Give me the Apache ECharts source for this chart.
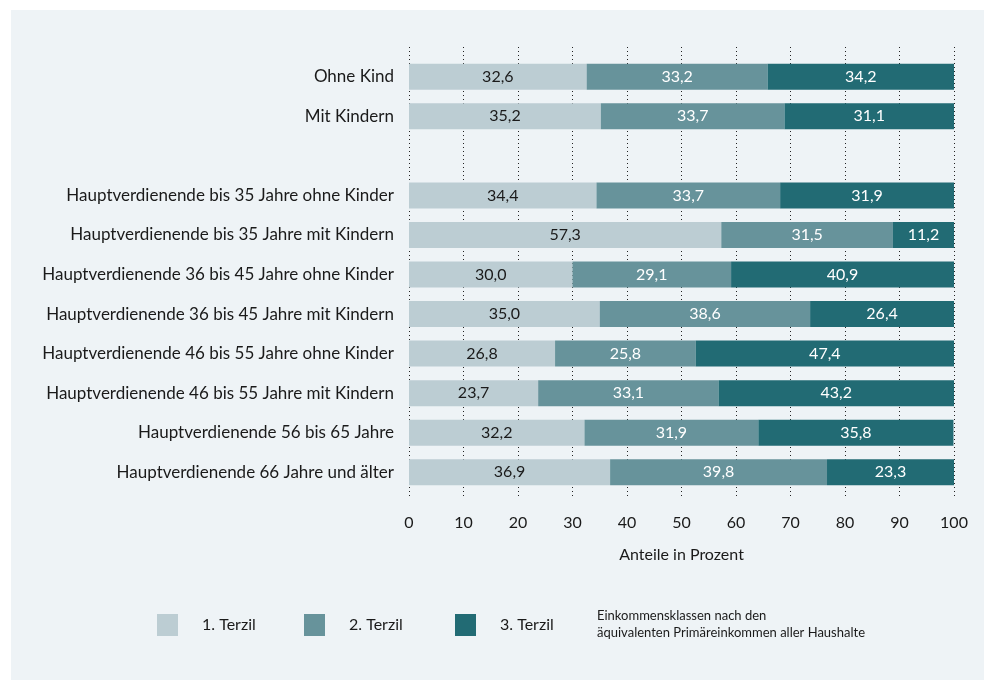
<!DOCTYPE html>
<html>
<head>
<meta charset="utf-8">
<script src="https://cdn.jsdelivr.net/npm/echarts@6/dist/echarts.min.js"></script>
<style>
  html, body { margin: 0; padding: 0; background: #fff; }
  #main { width: 984px; height: 680px; }
</style>
</head>
<body>
<div id="main"></div>
<script>
// Kategorien (leere Zeile als Abstand)
var categories = [
    'Ohne Kind',
    'Mit Kindern',
    '',
    'Hauptverdienende bis 35 Jahre ohne Kinder',
    'Hauptverdienende bis 35 Jahre mit Kindern',
    'Hauptverdienende 36 bis 45 Jahre ohne Kinder',
    'Hauptverdienende 36 bis 45 Jahre mit Kindern',
    'Hauptverdienende 46 bis 55 Jahre ohne Kinder',
    'Hauptverdienende 46 bis 55 Jahre mit Kindern',
    'Hauptverdienende 56 bis 65 Jahre',
    'Hauptverdienende 66 Jahre und älter'
];
var terzil1 = [32.6, 35.2, null, 34.4, 57.3, 30.0, 35.0, 26.8, 23.7, 32.2, 36.9];
var terzil2 = [33.2, 33.7, null, 33.7, 31.5, 29.1, 38.6, 25.8, 33.1, 31.9, 39.8];
var terzil3 = [34.2, 31.1, null, 31.9, 11.2, 40.9, 26.4, 47.4, 43.2, 35.8, 23.3];
var seriesNames = ['1. Terzil', '2. Terzil', '3. Terzil'];
var xTicks = [0, 10, 20, 30, 40, 50, 60, 70, 80, 90, 100];

var FONT = 'Lato';
var colors = ['#bccdd3', '#67939b', '#226b74'];
var textColors = ['#1a1a1a', '#ffffff', '#ffffff'];
var legendLeft = [157, 304, 455];

var chart = echarts.init(document.getElementById('main'));

function fmt(p) {
    return p.value == null ? '' : p.value.toFixed(1).replace('.', ',');
}

function makeSeries(name, data, i) {
    return {
        name: name,
        type: 'bar',
        stack: 'total',
        xAxisIndex: 1,
        yAxisIndex: 1,
        barWidth: 26,
        data: data,
        itemStyle: { color: colors[i] },
        label: {
            show: true,
            position: 'inside',
            formatter: fmt,
            color: textColors[i],
            fontFamily: FONT,
            fontSize: 16
        }
    };
}

// eine Legende pro Terzil, damit die Abstände passen
var legends = seriesNames.map(function (n, i) {
    return {
        data: [n],
        left: legendLeft[i],
        top: 614,
        padding: 0,
        itemWidth: 21,
        itemHeight: 22,
        icon: 'rect',
        textStyle: {
            fontFamily: FONT,
            fontSize: 16,
            color: '#1a1a1a',
            padding: [0, 0, 0, 19]
        }
    };
});

var option = {
    backgroundColor: '#ffffff',
    animation: false,
    textStyle: { fontFamily: FONT },
    graphic: [
        {
            type: 'rect',
            z: -10,
            shape: { x: 11, y: 10, width: 973, height: 670 },
            style: { fill: '#eef3f6' }
        },
        {
            type: 'text',
            left: 597,
            top: 607,
            style: {
                text: 'Einkommensklassen nach den\näquivalenten Primäreinkommen aller Haushalte',
                fontFamily: FONT,
                fontSize: 13,
                lineHeight: 17,
                fill: '#1a1a1a'
            }
        }
    ],
    legend: legends,
    grid: [
        { left: 409, right: 30, top: 47, height: 450 },
        { left: 409, right: 30, top: 57, height: 435 }
    ],
    xAxis: [
        {
            gridIndex: 0,
            type: 'value',
            min: 0,
            max: 100,
            interval: 10,
            name: 'Anteile in Prozent',
            nameLocation: 'middle',
            nameGap: 50,
            nameTextStyle: { fontFamily: FONT, fontSize: 16, color: '#1a1a1a' },
            axisLine: { show: false },
            axisTick: { show: false },
            axisLabel: {
                margin: 18,
                fontFamily: FONT,
                fontSize: 16,
                color: '#1a1a1a',
                formatter: function (v) { return xTicks.indexOf(v) >= 0 ? String(v) : ''; }
            },
            splitLine: {
                show: true,
                lineStyle: { type: [1, 3], color: '#222', width: 1 }
            }
        },
        {
            gridIndex: 1,
            type: 'value',
            min: 0,
            max: 100,
            show: false
        }
    ],
    yAxis: [
        {
            gridIndex: 0,
            type: 'category',
            data: categories,
            show: false
        },
        {
            gridIndex: 1,
            type: 'category',
            data: categories,
            inverse: true,
            axisLine: { show: false },
            axisTick: { show: false },
            splitLine: { show: false },
            axisLabel: {
                margin: 15,
                fontFamily: FONT,
                fontSize: 17,
                color: '#1a1a1a'
            }
        }
    ],
    series: [
        makeSeries(seriesNames[0], terzil1, 0),
        makeSeries(seriesNames[1], terzil2, 1),
        makeSeries(seriesNames[2], terzil3, 2)
    ]
};

chart.setOption(option);
</script>
</body>
</html>
